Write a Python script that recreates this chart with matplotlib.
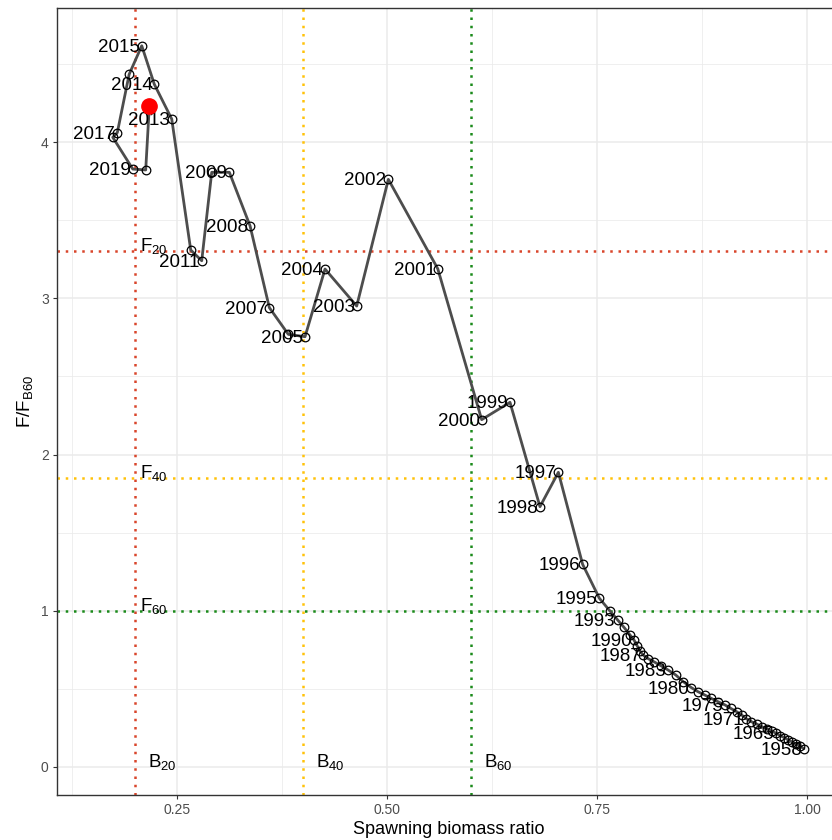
import matplotlib
matplotlib.use('Agg')
import matplotlib.pyplot as plt
from matplotlib.ticker import FixedLocator

plt.rcParams['font.family'] = ['Liberation Sans', 'DejaVu Sans']
plt.rcParams['mathtext.fontset'] = 'custom'
plt.rcParams['mathtext.rm'] = 'Liberation Sans'
plt.rcParams['mathtext.it'] = 'Liberation Sans:italic'
plt.rcParams['mathtext.bf'] = 'Liberation Sans:bold'

# ---------------- data ----------------
years = list(range(1958, 2022))
ssb_ratio = [0.9964, 0.9921, 0.9873, 0.9825, 0.9778, 0.9730, 0.9682, 0.9635,
             0.9579, 0.9520, 0.9460, 0.9401, 0.9337, 0.9278, 0.9222, 0.9163,
             0.9091, 0.9024, 0.8940, 0.8861, 0.8782, 0.8702, 0.8623, 0.8528,
             0.8437, 0.8345, 0.8258, 0.8183, 0.8111, 0.8048, 0.8012, 0.7980,
             0.7940, 0.7893, 0.7821, 0.7746, 0.7655, 0.7528, 0.7329, 0.7040,
             0.6821, 0.6464, 0.6127, 0.5604, 0.5016, 0.4639, 0.4262, 0.4024,
             0.3825, 0.3599, 0.3369, 0.3123, 0.2913, 0.2794, 0.2663, 0.2437,
             0.2230, 0.2080, 0.1930, 0.1789, 0.1735, 0.1973, 0.2127, 0.2170]
f_ratio = [0.117, 0.132, 0.145, 0.160, 0.173, 0.188, 0.2005, 0.2155,
           0.230, 0.245, 0.258, 0.275, 0.290, 0.309, 0.333, 0.354,
           0.3755, 0.397, 0.418, 0.439, 0.461, 0.482, 0.508, 0.546,
           0.589, 0.621, 0.649, 0.672, 0.693, 0.717, 0.742, 0.774,
           0.813, 0.845, 0.894, 0.941, 0.998, 1.080, 1.297, 1.886,
           1.666, 2.334, 2.223, 3.189, 3.761, 2.950, 3.187, 2.754,
           2.769, 2.940, 3.464, 3.806, 3.806, 3.240, 3.309, 4.147,
           4.369, 4.616, 4.433, 4.060, 4.030, 3.827, 3.821, 4.228]
labelled_years = [1958, 1965, 1971, 1975, 1980, 1983, 1987, 1990, 1993, 1995,
                  1996, 1997, 1998, 1999, 2000, 2001, 2002, 2003, 2004, 2005,
                  2007, 2008, 2009, 2011, 2013, 2014, 2015, 2017, 2019]

b_refs = [0.2, 0.4, 0.6]
b_labels = ['B_{20}', 'B_{40}', 'B_{60}']
f_refs = [3.30, 1.85, 1.0]
f_labels = ['F_{20}', 'F_{40}', 'F_{60}']
ref_colors = ['#D9452B', '#FFC20A', '#1A8A1A']

x_ticks = [0.25, 0.50, 0.75, 1.00]
x_ticklabels = ['0.25', '0.50', '0.75', '1.00']
y_ticks = [0, 1, 2, 3, 4]

# ---------------- figure ----------------
W, H = 832, 840
fig = plt.figure(figsize=(W / 100, H / 100), dpi=100)
ax = fig.add_axes([57 / W, (H - 795) / H, (840 - 57) / W, (795 - 8) / H])
ax.set_xlim(0.1071, 1.0393)
ax.set_ylim(-0.1792, 4.8576)

ax.xaxis.set_major_locator(FixedLocator(x_ticks))
ax.set_xticklabels(x_ticklabels)
ax.xaxis.set_minor_locator(FixedLocator([0.125, 0.375, 0.625, 0.875]))
ax.yaxis.set_major_locator(FixedLocator(y_ticks))
ax.yaxis.set_minor_locator(FixedLocator([0.5, 1.5, 2.5, 3.5, 4.5]))
ax.grid(which='major', color='#EBEBEB', lw=1.1, zorder=0)
ax.grid(which='minor', color='#EBEBEB', lw=0.55, zorder=0)
ax.set_axisbelow(True)
ax.tick_params(which='minor', length=0)
ax.tick_params(which='major', length=3, width=0.8, color='#333333',
               labelcolor='#4D4D4D', labelsize=10, pad=3)
for sp in ax.spines.values():
    sp.set_color('#333333')
    sp.set_linewidth(1.0)

# reference lines
for xv, col in zip(b_refs, ref_colors):
    ax.axvline(xv, color=col, lw=1.8, ls=(0, (1, 2.3)), dash_capstyle='butt', zorder=1)
for yv, col in zip(f_refs, ref_colors):
    ax.axhline(yv, color=col, lw=1.8, ls=(0, (1, 2.3)), dash_capstyle='butt', zorder=1)

for xv, lab in zip(b_refs, b_labels):
    ax.annotate(r'$\mathregular{' + lab + '}$', xy=(xv, 0), xytext=(9.5, 0),
                textcoords='offset points', ha='left', va='baseline',
                fontsize=13.5, color='black', zorder=3)
for yv, lab in zip(f_refs, f_labels):
    ax.annotate(r'$\mathregular{' + lab + '}$', xy=(b_refs[0], yv), xytext=(3.5, 0),
                textcoords='offset points', ha='left', va='baseline',
                fontsize=13.5, color='black', zorder=3)

# path + points
ax.plot(ssb_ratio, f_ratio, color='#4D4D4D', lw=2.0, zorder=2, solid_capstyle='round')
ax.plot(ssb_ratio, f_ratio, ls='none', marker='o', ms=6.2, mfc='none',
        mec='black', mew=0.9, zorder=3)

for yr, xv, yv in zip(years, ssb_ratio, f_ratio):
    if yr in labelled_years:
        ax.annotate(str(yr), xy=(xv, yv), xytext=(-1.5, -1.0),
                    textcoords='offset points', ha='right', va='center',
                    fontsize=13.5, color='black', zorder=4)

ax.plot(ssb_ratio[-1:], f_ratio[-1:], ls='none', marker='o', ms=11,
        mfc='red', mec='red', zorder=5)

ax.set_xlabel('Spawning biomass ratio', fontsize=13, labelpad=3)
ax.set_ylabel(r'$\mathregular{F/F_{B60}}$', fontsize=13.5, labelpad=4)

fig.savefig('out.png', dpi=100)
